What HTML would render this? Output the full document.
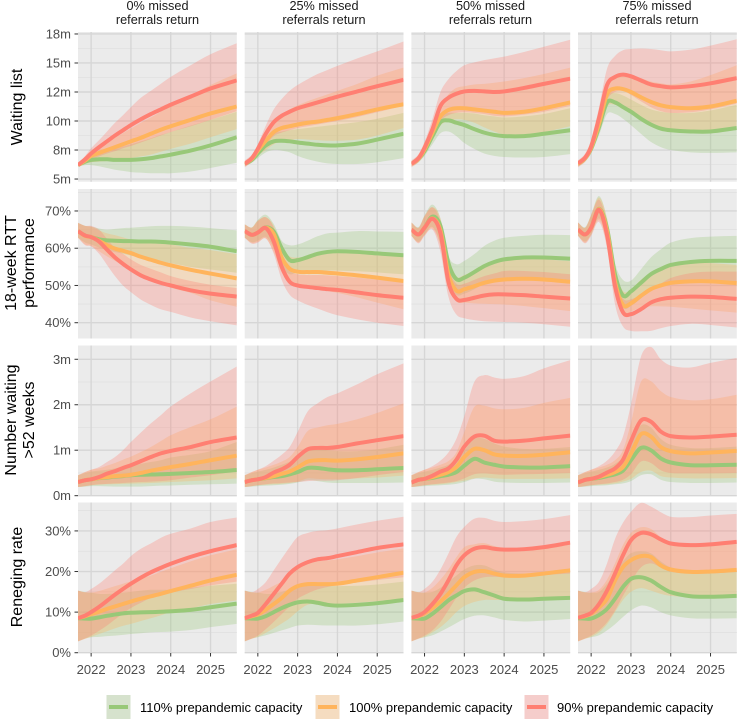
<!DOCTYPE html>
<html lang="en">
<head>
<meta charset="utf-8">
<title>Waiting list scenarios</title>
<style>
html,body{margin:0;padding:0;background:#fff;}
body{width:738px;height:721px;overflow:hidden;font-family:"Liberation Sans",Arial,sans-serif;}
svg{display:block;filter:blur(0.35px);}
text{font-family:"Liberation Sans",Arial,sans-serif;}
.strip{font-size:12.7px;fill:#1a1a1a;text-anchor:middle;}
.rowt{font-size:16px;fill:#000;text-anchor:middle;}
.leg{font-size:13px;fill:#000;}
.tick{font-size:13px;fill:#4d4d4d;}
</style>
</head>
<body>
<svg id="chart" width="738" height="721" viewBox="0 0 738 721" xmlns="http://www.w3.org/2000/svg">
  <g>
    <text class="strip" x="157.5" y="10"><tspan x="157.5">0% missed</tspan><tspan x="157.5" dy="14">referrals return</tspan></text>
    <text class="strip" x="324" y="10"><tspan x="324">25% missed</tspan><tspan x="324" dy="14">referrals return</tspan></text>
    <text class="strip" x="490.5" y="10"><tspan x="490.5">50% missed</tspan><tspan x="490.5" dy="14">referrals return</tspan></text>
    <text class="strip" x="657" y="10"><tspan x="657">75% missed</tspan><tspan x="657" dy="14">referrals return</tspan></text>
  </g>
  <g>
    <text class="rowt" transform="translate(22,107) rotate(-90)">Waiting list</text>
    <text class="rowt" transform="translate(16,263) rotate(-90)"><tspan x="0">18-week RTT</tspan><tspan x="0" dy="18">performance</tspan></text>
    <text class="rowt" transform="translate(16,420) rotate(-90)"><tspan x="0">Number waiting</tspan><tspan x="0" dy="18">&gt;52 weeks</tspan></text>
    <text class="rowt" transform="translate(22,577) rotate(-90)">Reneging rate</text>
  </g>
  <g id="panels"></g>
  <g>
    <g>
      <rect x="106.5" y="695" width="24" height="24" fill="#d6e2cd"/>
      <rect x="109" y="705" width="19" height="4" fill="#98c878"/>
      <text class="leg" x="140" y="712">110% prepandemic capacity</text>
    </g>
    <g>
      <rect x="315.5" y="695" width="24" height="24" fill="#f5dcc0"/>
      <rect x="318" y="705" width="19" height="4" fill="#ffb45c"/>
      <text class="leg" x="349" y="712">100% prepandemic capacity</text>
    </g>
    <g>
      <rect x="524.5" y="695" width="24" height="24" fill="#f5cdcb"/>
      <rect x="527" y="705" width="19" height="4" fill="#ff7f72"/>
      <text class="leg" x="557" y="712">90% prepandemic capacity</text>
    </g>
  </g>
</svg>
<script>
var timePoints=[2021.67,2021.85,2022,2022.2,2022.4,2022.6,2022.8,2023,2023.25,2023.5,2023.75,2024,2024.5,2025,2025.66];
var yearTicks=[2022,2023,2024,2025];

var wlTicks=[5,7.5,10,12.5,15,17.5];
var wlTickLabels=['5m','8m','10m','12m','15m','18m'];
var wlMinor=[6.25,8.75,11.25,13.75,16.25];
var rttTicks=[40,50,60,70];
var rttTickLabels=['40%','50%','60%','70%'];
var rttMinor=[45,55,65,75];
var w52Ticks=[0,1,2,3];
var w52TickLabels=['0m','1m','2m','3m'];
var w52Minor=[0.5,1.5,2.5];
var renTicks=[0,10,20,30];
var renTickLabels=['0%','10%','20%','30%'];
var renMinor=[5,15,25,35];

/* Waiting list (millions) */
var wl0_110_lo=[6.1,6.2,6.2,6.1,5.95,5.8,5.7,5.6,5.55,5.5,5.5,5.5,5.65,5.95,6.4];
var wl0_110_mid=[6.2,6.5,6.65,6.7,6.7,6.65,6.65,6.65,6.7,6.8,6.95,7.1,7.45,7.9,8.6];
var wl0_110_hi=[6.3,6.7,7.0,7.2,7.4,7.6,7.8,8.0,8.25,8.5,8.8,9.05,9.6,10.1,10.8];
var wl0_100_lo=[6.1,6.3,6.45,6.5,6.55,6.6,6.7,6.8,6.95,7.1,7.35,7.6,8.05,8.6,9.3];
var wl0_100_mid=[6.2,6.6,7.0,7.25,7.5,7.75,8.0,8.25,8.55,8.9,9.25,9.55,10.1,10.65,11.25];
var wl0_100_hi=[6.3,6.8,7.35,7.8,8.2,8.55,8.95,9.35,9.85,10.3,10.8,11.3,12.2,13.1,14.1];
var wl0_90_lo=[6.1,6.4,6.7,6.95,7.2,7.4,7.65,7.85,8.15,8.45,8.75,9.05,9.55,10.1,10.85];
var wl0_90_mid=[6.2,6.7,7.2,7.75,8.25,8.75,9.2,9.65,10.15,10.6,11.0,11.4,12.1,12.8,13.5];
var wl0_90_hi=[6.3,7.0,7.65,8.35,9.1,9.85,10.5,11.2,12.0,12.6,13.2,13.8,14.8,15.75,16.7];

var wl25_110_lo=[6.1,6.4,6.8,7.3,7.5,7.45,7.3,7.0,6.7,6.5,6.35,6.3,6.3,6.45,6.8];
var wl25_110_mid=[6.3,6.65,7.2,7.9,8.25,8.3,8.25,8.15,8.05,7.95,7.9,7.9,8.05,8.4,8.9];
var wl25_110_hi=[6.5,6.9,7.5,8.4,8.95,9.1,9.2,9.3,9.4,9.5,9.6,9.7,9.9,10.2,10.7];
var wl25_100_lo=[6.1,6.45,7.0,7.5,8.0,8.25,8.35,8.45,8.4,8.35,8.3,8.3,8.4,8.75,9.4];
var wl25_100_mid=[6.3,6.75,7.45,8.3,9.05,9.4,9.55,9.7,9.85,9.95,10.1,10.25,10.6,11,11.45];
var wl25_100_hi=[6.5,7.0,7.8,9.0,10,10.6,11,11.35,11.7,12,12.3,12.6,13.2,13.9,14.6];
var wl25_90_lo=[6.0,6.45,7.05,7.9,8.7,9,9.2,9.4,9.55,9.7,9.85,10,10.35,10.75,11.3];
var wl25_90_mid=[6.3,6.8,7.6,8.9,9.9,10.45,10.8,11.1,11.35,11.6,11.85,12.1,12.55,13,13.55];
var wl25_90_hi=[6.6,7.1,8.0,9.6,11,11.9,12.6,13.1,13.6,14.05,14.4,14.75,15.4,16,16.85];

var wl50_110_lo=[6.1,6.45,7.0,8,8.95,9.1,8.7,8.1,7.6,7.2,7,6.9,6.85,6.9,7.15];
var wl50_110_mid=[6.3,6.75,7.4,8.7,9.9,10.05,9.85,9.65,9.3,9.0,8.8,8.7,8.7,8.9,9.2];
var wl50_110_hi=[6.5,7.05,7.8,9.2,10.5,10.7,10.7,10.7,10.65,10.5,10.4,10.3,10.4,10.6,11.1];
var wl50_100_lo=[6.1,6.45,7.1,8.3,9.6,10,10.15,10.1,9.85,9.45,9.1,8.85,8.85,9.05,9.55];
var wl50_100_mid=[6.3,6.75,7.55,9,10.4,10.95,11.1,11.1,11,10.9,10.8,10.7,10.8,11.1,11.6];
var wl50_100_hi=[6.5,7.05,8.0,9.7,11.3,12.3,12.85,13,13.15,13.2,13.3,13.4,13.7,14.05,14.6];
var wl50_90_lo=[6,6.45,7.2,8.5,10.0,10.5,10.7,10.75,10.7,10.6,10.45,10.4,10.55,10.8,11.3];
var wl50_90_mid=[6.3,6.8,7.7,9.3,11.3,12.0,12.35,12.55,12.6,12.55,12.5,12.55,12.85,13.2,13.65];
var wl50_90_hi=[6.6,7.15,8.2,10.2,12.5,13.6,14.3,14.8,15.05,15.25,15.4,15.55,15.95,16.4,17];

var wl75_110_lo=[6.1,6.5,7.2,8.8,10.6,10.6,10.2,9.65,8.9,8.2,7.75,7.5,7.3,7.25,7.3];
var wl75_110_mid=[6.3,6.8,7.6,9.5,11.6,11.6,11.2,10.8,10.2,9.7,9.35,9.2,9.1,9.1,9.4];
var wl75_110_hi=[6.5,7.1,8.0,10.2,12.2,12.4,12.2,11.85,11.4,11,10.8,10.7,10.7,10.9,11.4];
var wl75_100_lo=[6.1,6.5,7.3,9,11.2,11.4,11.05,10.7,10.2,9.65,9.25,9.05,9,9.15,9.55];
var wl75_100_mid=[6.3,6.8,7.7,9.8,12.3,12.8,12.75,12.5,12.05,11.65,11.35,11.2,11.1,11.25,11.75];
var wl75_100_hi=[6.5,7.1,8.2,10.6,13,13.7,14,13.95,13.7,13.4,13.25,13.15,13.4,13.95,14.8];
var wl75_90_lo=[6,6.5,7.4,9.4,11.8,12.5,12.6,12.25,11.7,11.2,10.85,10.7,10.75,11,11.5];
var wl75_90_mid=[6.35,6.85,7.8,10.3,13.1,13.8,14,13.85,13.5,13.15,13,12.9,13,13.25,13.7];
var wl75_90_hi=[6.6,7.2,8.4,11.2,14.5,15.6,16.1,16.2,16.25,16.2,16.1,16,16.15,16.5,17.05];

/* 18-week RTT performance (%) */
var rtt0_110_lo=[62.8,61.5,61,60.2,59.5,59,58.5,58,57.5,57,56.5,56,55,54.3,53.4];
var rtt0_110_mid=[64.6,63.4,63,62.4,62.1,62,61.9,61.9,61.8,61.8,61.7,61.5,61,60.4,59.2];
var rtt0_110_hi=[66.8,66,65.8,65.3,65,65.2,65.4,65.5,65.7,65.9,66,66,65.8,65.4,64.8];
var rtt0_100_lo=[62.8,61,60.6,59.2,57.8,56.6,55.4,54.2,52.9,51.8,50.6,49.4,48,46,44.3];
var rtt0_100_mid=[64.6,63.3,63,62,60.8,59.9,59.3,58.7,57.7,56.9,56.1,55.4,54.2,53.2,51.9];
var rtt0_100_hi=[66.8,66,65.8,64.8,64,63.5,62.9,62.3,61.9,61.5,61.2,61,60.1,59.5,58.4];
var rtt0_90_lo=[62.8,60.8,60.5,58.5,55.5,52.5,50,48.2,46.2,44.8,43.6,42.9,41.4,40.4,39.3];
var rtt0_90_mid=[64.6,63.4,63,61.8,59.6,57.5,55.8,54.3,52.7,51.6,50.7,50,48.7,47.8,47];
var rtt0_90_hi=[66.8,66,66,65,62.5,60,58.5,57,55.5,54.5,53.5,52.5,51.2,50.2,49.3];

var rtt25_110_lo=[62.8,61.6,62,63,60,55,53,53.5,53.8,54,54,54,53.8,53.5,53];
var rtt25_110_mid=[64.6,63.6,64.2,65.6,64.5,60,56.8,56.8,57.6,58.5,59,59.2,59,58.6,58.1];
var rtt25_110_hi=[66.4,65.6,67.6,69,66.5,62,60.8,61,62,63.2,64,64.2,64.6,64.5,64.4];
var rtt25_100_lo=[62.8,61.4,61.7,62.6,59,53.5,51.2,50.3,49.6,49,48.5,48,46.8,45.4,43.6];
var rtt25_100_mid=[64.6,63.6,64.2,65.5,63.8,57.5,54.5,53.7,53.6,53.6,53.4,53.2,52.7,52.1,51.2];
var rtt25_100_hi=[66.4,65.6,67.4,68.3,66,60,57.8,57.5,57.8,58.2,59,59.3,59.3,59,58.3];
var rtt25_90_lo=[62.8,61.2,61.5,62.6,58.5,51.5,47.5,46,44.8,43.8,42.8,42,40.9,40,39.1];
var rtt25_90_mid=[64.6,63.6,64.2,65.4,61.8,55,51,50,49.6,49.3,49,48.8,48.1,47.4,46.7];
var rtt25_90_hi=[66.4,65.5,67.3,68.3,65.5,57.5,54,53,52.8,52.8,52.7,52.5,52.1,51.6,50.8];

var rtt50_110_lo=[63.3,61.7,63.7,65.7,61,51,47.5,47.8,49,50.5,51.3,51.8,52,52,51.5];
var rtt50_110_mid=[65,63.7,65.5,68.5,66,56,51.7,52.1,53.6,55.2,56.3,57,57.5,57.5,57.2];
var rtt50_110_hi=[66.9,65.7,68.8,71.7,68,58,55.7,56.6,58.4,60.6,62,62.8,63.3,63.6,63.5];
var rtt50_100_lo=[63.3,61.5,63.5,65.3,60.5,50,45.7,45.4,45.2,45.1,45,44.9,44.5,43.9,43.1];
var rtt50_100_mid=[65,63.7,65.5,68,64.7,53,48.6,49,49.8,50.7,51.3,51.6,51.8,51.6,51];
var rtt50_100_hi=[66.9,65.5,68.6,71,68,56,52.3,52.8,54,55.3,56.2,56.8,57,57,56.5];
var rtt50_90_lo=[63.3,61.3,63.3,65,59,47,42.2,41.2,40.7,40.4,40.3,40.2,40,39.6,38.9];
var rtt50_90_mid=[65,63.7,65.5,67.9,64,51,46.4,46.1,46.7,47.3,47.6,47.6,47.4,47,46.5];
var rtt50_90_hi=[66.9,65.5,68.6,71,67,55,50.5,50.5,51.5,52.5,53.2,53.9,53.9,53.6,53];

var rtt75_110_lo=[63.3,61.8,63.8,68,62,50,44,44.5,46.5,48.5,50,51,51.5,51.5,51];
var rtt75_110_mid=[65,63.7,65.5,70.6,65.3,53,47.3,48.4,50.7,53,54.4,55.5,56.3,56.6,56.6];
var rtt75_110_hi=[66.9,65.7,69,74,68,56,51.5,51.3,54.3,57.5,59.7,61.5,62.7,63.1,63.3];
var rtt75_100_lo=[63.3,61.5,63.6,67.5,61,48,42,43,44,44.4,44.4,44.3,43.8,43.3,42.7];
var rtt75_100_mid=[65,63.7,65.5,70.5,64.5,51,44.8,45.2,47.2,49,50,50.7,51.1,51.1,50.6];
var rtt75_100_hi=[66.9,65.5,68.9,73.6,68,54.5,48.5,49,51.5,53.2,54.5,55.5,56,56,55.5];
var rtt75_90_lo=[63.3,61.3,63.3,67,60,45,39,37.8,37.7,37.8,38.5,39.1,39.7,39.4,38.7];
var rtt75_90_mid=[65,63.7,65.5,70.3,63.5,49.8,42.8,42.3,43.6,45.4,46.3,46.7,47,46.9,46.4];
var rtt75_90_hi=[66.9,65.5,68.8,73,66.5,52,46.5,46.3,47.5,49,50.5,52,53.3,53.7,53.7];

/* Number waiting > 52 weeks (millions) */
var w520_110_lo=[.19,.2,.21,.21,.205,.2,.2,.2,.2,.21,.22,.225,.24,.25,.265];
var w520_110_mid=[.30,.34,.36,.385,.40,.42,.43,.45,.46,.465,.47,.48,.50,.52,.565];
var w520_110_hi=[.45,.5,.53,.55,.57,.6,.63,.66,.7,.74,.78,.84,.9,.98,1.18];
var w520_100_lo=[.19,.21,.23,.24,.25,.255,.26,.265,.27,.28,.29,.3,.32,.34,.38];
var w520_100_mid=[.30,.34,.36,.39,.41,.43,.44,.46,.50,.55,.59,.63,.7,.78,.88];
var w520_100_hi=[.45,.52,.57,.6,.66,.72,.79,.86,.96,1.07,1.2,1.33,1.51,1.68,1.96];
var w520_90_lo=[.19,.21,.23,.25,.26,.27,.28,.29,.3,.31,.32,.34,.4,.45,.54];
var w520_90_mid=[.30,.34,.36,.41,.485,.54,.61,.67,.76,.85,.93,.985,1.07,1.18,1.28];
var w520_90_hi=[.45,.52,.57,.63,.74,.85,1.0,1.18,1.39,1.59,1.77,1.96,2.25,2.51,2.84];

var w5225_110_lo=[.19,.2,.21,.22,.23,.24,.26,.29,.34,.32,.29,.28,.28,.28,.29];
var w5225_110_mid=[.30,.34,.36,.385,.41,.43,.47,.52,.61,.61,.58,.56,.56,.58,.61];
var w5225_110_hi=[.45,.5,.53,.57,.62,.68,.75,.85,1.0,1.02,1.0,.98,.98,1.02,1.12];
var w5225_100_lo=[.19,.21,.23,.24,.25,.26,.28,.31,.38,.37,.36,.36,.38,.4,.44];
var w5225_100_mid=[.30,.34,.36,.39,.43,.48,.53,.62,.75,.78,.78,.77,.8,.85,.93];
var w5225_100_hi=[.45,.52,.57,.62,.68,.75,.85,1.07,1.42,1.5,1.55,1.58,1.68,1.82,2.03];
var w5225_90_lo=[.19,.21,.23,.25,.27,.28,.29,.3,.32,.33,.33,.34,.39,.45,.52];
var w5225_90_mid=[.30,.34,.36,.41,.51,.58,.68,.85,1.02,1.05,1.05,1.07,1.15,1.22,1.31];
var w5225_90_hi=[.45,.52,.57,.65,.77,.9,1.07,1.4,1.85,2.03,2.17,2.25,2.45,2.67,2.91];

var w5250_110_lo=[.19,.2,.21,.22,.23,.24,.26,.3,.37,.36,.31,.29,.28,.28,.29];
var w5250_110_mid=[.29,.35,.37,.39,.43,.46,.52,.66,.81,.73,.68,.64,.62,.62,.65];
var w5250_110_hi=[.45,.5,.53,.57,.62,.68,.8,1,1.25,1.25,1.15,1.08,1.03,1.03,1.07];
var w5250_100_lo=[.19,.21,.23,.24,.25,.27,.3,.33,.38,.4,.38,.37,.37,.37,.38];
var w5250_100_mid=[.29,.35,.37,.41,.46,.52,.63,.85,1.03,1.0,.91,.88,.875,.9,.955];
var w5250_100_hi=[.45,.52,.57,.62,.68,.76,.95,1.4,1.95,1.98,1.92,1.9,1.93,2.04,2.15];
var w5250_90_lo=[.19,.21,.23,.25,.27,.29,.32,.38,.47,.49,.47,.46,.47,.48,.5];
var w5250_90_mid=[.29,.35,.37,.44,.53,.6,.79,1.08,1.3,1.32,1.21,1.19,1.21,1.26,1.32];
var w5250_90_hi=[.45,.52,.57,.65,.77,.95,1.25,1.75,2.5,2.65,2.6,2.57,2.63,2.8,2.98];

var w5275_110_lo=[.19,.2,.21,.22,.23,.25,.27,.32,.45,.47,.35,.3,.28,.28,.29];
var w5275_110_mid=[.29,.35,.37,.39,.43,.47,.55,.78,1.05,1.0,.82,.73,.67,.67,.68];
var w5275_110_hi=[.45,.5,.53,.57,.62,.7,.85,1.2,1.55,1.5,1.25,1.12,1.05,1.05,1.08];
var w5275_100_lo=[.19,.21,.23,.24,.25,.27,.31,.37,.52,.55,.43,.4,.38,.38,.39];
var w5275_100_mid=[.29,.35,.37,.41,.46,.52,.63,.92,1.35,1.3,1.07,.98,.93,.95,.985];
var w5275_100_hi=[.45,.52,.57,.62,.68,.78,1,1.6,2.5,2.52,2.3,2.17,2.1,2.12,2.22];
var w5275_90_lo=[.19,.21,.23,.25,.27,.3,.35,.47,.75,.72,.56,.5,.49,.49,.5];
var w5275_90_mid=[.29,.35,.37,.42,.51,.6,.79,1.2,1.65,1.63,1.41,1.31,1.28,1.3,1.34];
var w5275_90_hi=[.45,.52,.57,.65,.77,.97,1.3,2.0,3.05,3.27,3.0,2.86,2.82,2.92,3.03];

/* Reneging rate (%) */
var ren0_110_lo=[2.8,3.5,3.8,3.9,4.1,4.2,4.4,4.6,4.8,5,5.1,5.2,5.6,6.3,7.1];
var ren0_110_mid=[8.5,8.4,8.4,8.7,9.1,9.4,9.7,9.85,9.95,10,10.1,10.2,10.55,11.2,12.1];
var ren0_110_hi=[15.3,14.9,14.8,14.5,14.5,14.6,14.8,15,15.3,15.5,15.5,15.5,16,16.5,17];
var ren0_100_lo=[2.8,3.4,3.9,4.6,5.3,6,6.6,7.1,7.8,8.5,9.2,10,10.9,12,12.9];
var ren0_100_mid=[8.5,9,9.5,10.1,10.8,11.4,12,12.6,13.3,13.9,14.5,15.2,16.5,17.8,19.2];
var ren0_100_hi=[15.3,14.9,14.8,15.2,15.8,16.4,17,17.6,18.3,19,19.9,20.8,22.5,24,25.5];
var ren0_90_lo=[2.8,3.5,4.2,5.4,6.7,8.2,9.7,11,12.3,13.5,14.2,14.8,15.7,16.6,17.5];
var ren0_90_mid=[8.5,9.15,10,11.3,12.8,14.3,15.7,17,18.5,19.8,20.9,21.9,23.6,25,26.5];
var ren0_90_hi=[15.3,14.9,15.7,17,18.6,20.3,21.9,23.8,25.6,26.9,28.3,29.3,30.6,32.2,33.3];

var ren25_110_lo=[2.8,3.5,3.8,4.3,4.9,5.5,6.1,6.7,6.9,6.8,6.7,6.7,6.7,7,7.7];
var ren25_110_mid=[8.5,8.4,8.4,9,10,11,11.8,12.4,12.6,12.3,11.8,11.6,11.8,12.2,13];
var ren25_110_hi=[15.3,14.9,14.8,14.5,14.6,15,15.5,16,16.5,16.6,16.5,16.4,16.5,16.8,17.5];
var ren25_100_lo=[2.8,3.4,3.9,4.9,6,7.2,8.5,10.2,11.8,12,12,12,12.3,12.7,13.3];
var ren25_100_mid=[8.5,9,9.4,10.6,12,13.5,15.3,16.4,16.9,16.9,16.9,17,17.8,18.6,19.7];
var ren25_100_hi=[15.3,14.9,14.8,15.5,16.5,17.5,19,21,22,22.5,22.7,23,23.8,24.7,25.7];
var ren25_90_lo=[2.8,3.5,4.2,5.8,7.6,9.5,11.4,13.3,14.6,15.6,16.2,16.7,17.3,17.9,18.6];
var ren25_90_mid=[8.5,9.15,9.8,12,14.5,17,19.5,21.1,22.3,23,23.3,23.8,24.8,25.8,26.7];
var ren25_90_hi=[15.3,14.9,15.7,17.4,20.3,23.2,26,28.5,29.5,30,30.2,30.6,31.6,32.5,33.5];

var ren50_110_lo=[2.8,3.5,3.8,4.3,5.2,6.2,7.3,8.3,9.1,9.2,8.7,8.1,7.7,7.9,8.3];
var ren50_110_mid=[8.5,8.4,8.4,9.6,11.2,12.9,14.1,15.2,15.6,14.9,14.1,13.3,13.1,13.3,13.5];
var ren50_110_hi=[15.3,14.9,14.8,15,16,17.5,19,20.5,21.5,21.5,20.5,19.8,19.5,19.3,19.8];
var ren50_100_lo=[2.8,3.4,3.9,5,6.3,8,10,11.5,12.5,13,13,13,13,13.5,14];
var ren50_100_mid=[8.6,9,9.7,11,12.6,14.5,16.6,18.6,19.9,20.1,19.5,19,19,19.5,20.3];
var ren50_100_hi=[15.3,14.9,14.8,16,18,20.5,23.5,26,26.7,27,26.3,25.8,25.8,26.3,27];
var ren50_90_lo=[2.8,3.5,4.2,5.5,7.6,10.5,13.5,16,17.8,18.6,18.7,18.6,18.8,19.1,19.5];
var ren50_90_mid=[8.6,9.15,10,12,14.5,17.8,21.5,24,25.6,26,25.6,25.4,25.5,26,27.1];
var ren50_90_hi=[15.3,14.9,15.7,17.5,20.5,24.4,28.5,31,33,33.2,32.5,32.2,32.4,32.9,33.9];

var ren75_110_lo=[2.8,3.5,3.8,4.3,5.5,7,8.8,10.4,11.6,11.2,10,9.2,8.5,8.4,8.5];
var ren75_110_mid=[8.5,8.4,8.4,9.3,10.8,13.3,16.2,18.2,18.6,17.8,16.2,14.9,13.9,13.8,14];
var ren75_110_hi=[15.3,14.9,14.8,15,17,19.5,22.5,24.5,25,24.5,22.5,21,20,19.9,20.2];
var ren75_100_lo=[2.8,3.4,3.9,5,7,10,13,15,15.9,15.3,14.5,14,13.7,13.7,14];
var ren75_100_mid=[8.6,9,9.6,11.2,13.3,17.8,21.1,22.8,23.8,23.6,21.5,20.5,19.9,20,20.4];
var ren75_100_hi=[15.3,14.9,14.8,15.5,18,22,26.5,29.5,30.9,30.5,28.5,27.3,26.8,27,27.4];
var ren75_90_lo=[2.8,3.5,4.2,5.5,7.5,10.4,14,17.4,21,22,21,19.9,19.5,19.5,19.9];
var ren75_90_mid=[8.6,9.15,9.8,12,15.3,19.5,24,27.7,29.5,29.2,27.9,26.9,26.5,26.7,27.3];
var ren75_90_hi=[15.3,14.9,15.7,17.5,22,28,32,34.7,36.9,36,34.6,33.5,33.4,33.8,34.2];

var scenarios=['0','25','50','75'];
var capacities=['110','100','90'];
var capacityColors=['#98c878','#ffb45c','#ff7f72'];
var metricKeys=['wl','rtt','w52','ren'];

(function(){
  var NS='http://www.w3.org/2000/svg';
  var root=document.getElementById('panels');
  var colLeft=[78,244.7,411.4,578];
  var panelW=158.8;
  var rows=[
    {key:'wl',top:32,h:149.7,dom:[4.77,17.67],ticks:wlTicks,labels:wlTickLabels,minor:wlMinor},
    {key:'rtt',top:189,h:149.5,dom:[35.76,75.9],ticks:rttTicks,labels:rttTickLabels,minor:rttMinor},
    {key:'w52',top:345.5,h:150.5,dom:[-0.007,3.303],ticks:w52Ticks,labels:w52TickLabels,minor:w52Minor},
    {key:'ren',top:502.5,h:150.5,dom:[-0.07,37],ticks:renTicks,labels:renTickLabels,minor:renMinor}
  ];
  var xDom=[2021.67,2025.66];
  function xScale(col,t){return colLeft[col]+(t-xDom[0])/(xDom[1]-xDom[0])*panelW;}
  function yScale(row,v){return row.top+row.h-(v-row.dom[0])/(row.dom[1]-row.dom[0])*row.h;}
  function segs(pts){
    var d='';
    for(var i=0;i<pts.length-1;i++){
      var p0=pts[Math.max(i-1,0)],p1=pts[i],p2=pts[i+1],p3=pts[Math.min(i+2,pts.length-1)];
      var h=p2[0]-p1[0];
      var m1=(p2[1]-p0[1])/(p2[0]-p0[0]);
      var m2=(p3[1]-p1[1])/(p3[0]-p1[0]);
      d+='C'+(p1[0]+h/3).toFixed(2)+' '+(p1[1]+m1*h/3).toFixed(2)+' '+(p2[0]-h/3).toFixed(2)+' '+(p2[1]-m2*h/3).toFixed(2)+' '+p2[0].toFixed(2)+' '+p2[1].toFixed(2);
    }
    return d;
  }
  function pointsOf(col,row,vals){
    return timePoints.map(function(t,i){return [xScale(col,t),yScale(row,vals[i])];});
  }
  var defs=document.createElementNS(NS,'defs');
  root.appendChild(defs);

  rows.forEach(function(row,r){
    colLeft.forEach(function(left,c){
      var g=document.createElementNS(NS,'g');
      
      
      root.appendChild(g);

      var bg=document.createElementNS(NS,'rect');
      
      
      bg.setAttribute('x',left);
      bg.setAttribute('y',row.top);
      bg.setAttribute('width',panelW);
      bg.setAttribute('height',row.h);
      bg.setAttribute('fill','#ebebeb');
      g.appendChild(bg);

      row.minor.forEach(function(v){
        var y=yScale(row,v);
        if(y<row.top||y>row.top+row.h)return;
        var m=document.createElementNS(NS,'line');
        
        
        m.setAttribute('x1',left);
        m.setAttribute('x2',left+panelW);
        m.setAttribute('y1',y);
        m.setAttribute('y2',y);
        m.setAttribute('stroke','#e0e0e0');
        m.setAttribute('stroke-width','0.8');
        g.appendChild(m);
      });
      row.ticks.forEach(function(v,i){
        var y=yScale(row,v);
        var l=document.createElementNS(NS,'line');
        
        
        l.setAttribute('x1',left);
        l.setAttribute('x2',left+panelW);
        l.setAttribute('y1',y);
        l.setAttribute('y2',y);
        l.setAttribute('stroke','#d6d6d6');
        l.setAttribute('stroke-width','1.4');
        g.appendChild(l);
        if(c===0){
          var tk=document.createElementNS(NS,'line');
          
          
          tk.setAttribute('x1',left-3.5);
          tk.setAttribute('x2',left);
          tk.setAttribute('y1',y);
          tk.setAttribute('y2',y);
          tk.setAttribute('stroke','#333');
          tk.setAttribute('stroke-width','1');
          g.appendChild(tk);
          var lb=document.createElementNS(NS,'text');
          
          
          lb.setAttribute('class','tick');
          lb.setAttribute('x',left-7);
          lb.setAttribute('y',y+4.5);
          lb.setAttribute('text-anchor','end');
          lb.textContent=row.labels[i];
          g.appendChild(lb);
        }
      });
      yearTicks.forEach(function(yr){
        var x=xScale(c,yr);
        var vl=document.createElementNS(NS,'line');
        
        
        vl.setAttribute('x1',x);
        vl.setAttribute('x2',x);
        vl.setAttribute('y1',row.top);
        vl.setAttribute('y2',row.top+row.h);
        vl.setAttribute('stroke','#d6d6d6');
        vl.setAttribute('stroke-width','1.4');
        g.appendChild(vl);
        if(r===rows.length-1){
          var xt=document.createElementNS(NS,'line');
          
          
          xt.setAttribute('x1',x);
          xt.setAttribute('x2',x);
          xt.setAttribute('y1',row.top+row.h);
          xt.setAttribute('y2',row.top+row.h+3.5);
          xt.setAttribute('stroke','#333');
          xt.setAttribute('stroke-width','1');
          g.appendChild(xt);
          var xl=document.createElementNS(NS,'text');
          
          
          xl.setAttribute('class','tick');
          xl.setAttribute('x',x);
          xl.setAttribute('y',row.top+row.h+21);
          xl.setAttribute('text-anchor','middle');
          xl.textContent=String(yr);
          g.appendChild(xl);
        }
      });

      var clipId='clip-'+r+'-'+c;
      var cp=document.createElementNS(NS,'clipPath');
      cp.setAttribute('id',clipId);
      var cr=document.createElementNS(NS,'rect');
      cr.setAttribute('x',left);
      cr.setAttribute('y',row.top);
      cr.setAttribute('width',panelW);
      cr.setAttribute('height',row.h);
      cp.appendChild(cr);
      defs.appendChild(cp);

      var marks=document.createElementNS(NS,'g');
      
      
      marks.setAttribute('clip-path','url(#'+clipId+')');
      g.appendChild(marks);

      capacities.forEach(function(cap,k){
        var base=row.key+scenarios[c]+'_'+cap;
        var lo=pointsOf(c,row,window[base+'_lo']);
        var hi=pointsOf(c,row,window[base+'_hi']).reverse();
        var rb=document.createElementNS(NS,'path');
        
        
        rb.setAttribute('d','M'+lo[0][0]+' '+lo[0][1]+segs(lo)+'L'+hi[0][0]+' '+hi[0][1]+segs(hi)+'Z');
        rb.setAttribute('fill',capacityColors[k]);
        rb.setAttribute('fill-opacity','0.3');
        marks.appendChild(rb);
      });
      capacities.forEach(function(cap,k){
        var base=row.key+scenarios[c]+'_'+cap;
        var mid=pointsOf(c,row,window[base+'_mid']);
        var ln=document.createElementNS(NS,'path');
        
        
        ln.setAttribute('d','M'+mid[0][0]+' '+mid[0][1]+segs(mid));
        ln.setAttribute('fill','none');
        ln.setAttribute('stroke',capacityColors[k]);
        ln.setAttribute('stroke-width','4');
        marks.appendChild(ln);
      });
    });
  });
})();
</script>
</body>
</html>
